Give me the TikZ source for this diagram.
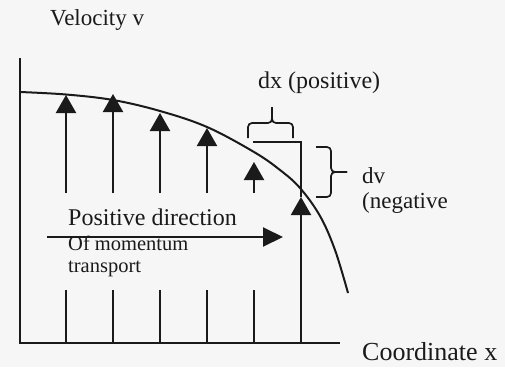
\documentclass[tikz,border=0pt]{standalone}
\usepackage{fontspec}
\setmainfont{Liberation Serif}
\usetikzlibrary{arrows.meta}
\definecolor{ink}{HTML}{1A1A1A}
\definecolor{paper}{HTML}{F6F6F6}
\begin{document}
\begin{tikzpicture}[x=1pt,y=-1pt,
  ln/.style={line width=2pt, draw=ink},
  arr/.style={ln, -{Triangle[width=20pt,length=18pt]}},
  lbl/.style={inner sep=0pt, anchor=base west, text=ink},
  brc/.style={line width=1.7pt, draw=ink, rounded corners=4pt},
  ]
\fill[paper] (0,0) rectangle (505,367);
\useasboundingbox (0,0) rectangle (505,367);
% axes
\coordinate (O) at (20,343);
\coordinate (Ytop) at (20,58);
\coordinate (Xend) at (340,343);
\draw[ln] (Ytop) -- (O) -- (Xend);
% velocity profile
\draw[ln] plot[smooth, tension=0.6] coordinates {(20,92) (66,94.5) (113,100) (160,111) (207,127) (254,152) (280,170) (300,188) (320,216) (335,250) (348,293)};
% vertical arrows (broken by the label)
\foreach \x/\t in {66/95, 113/94, 160/113, 207/128, 254/162} {
  \draw[ln] (\x,343) -- (\x,290);
  \draw[arr] (\x,193) -- (\x,\t);
}
\coordinate (A6b) at (301,343);
\coordinate (A6t) at (301,197);
\draw[arr] (A6b) -- (A6t);
% horizontal arrow
\coordinate (H1) at (47,237);
\coordinate (H2) at (283,237);
\draw[ln, -{Triangle[width=19pt,length=20pt]}] (H1) -- (H2);
% dx / dv step
\coordinate (S1) at (253,142);
\coordinate (S2) at (301,142);
\draw[line width=1.7pt, draw=ink] (S1) -- (S2) -- (A6t);
% dx brace
\draw[brc] (248,138) -- (248,123) -- (272,123) -- (272,107);
\draw[brc] (272,107) -- (272,123) -- (293,123) -- (293,138);
% dv brace
\draw[brc] (316,147) -- (331,147) -- (331,172) -- (347,172);
\draw[brc] (347,172) -- (331,172) -- (331,197) -- (316,197);
% labels
\node[lbl, font=\fontsize{23}{23}\selectfont] (vel) at (50,25) {Velocity v};
\node[lbl, font=\fontsize{24}{24}\selectfont] (dx) at (258,88) {dx (positive)};
\node[lbl, font=\fontsize{23}{23}\selectfont] (dv) at (362,183) {dv};
\node[lbl, font=\fontsize{23}{23}\selectfont] (neg) at (362,208) {(negative};
\node[lbl, font=\fontsize{24}{24}\selectfont] (pos) at (68,225) {Positive direction};
\node[lbl, font=\fontsize{20.5}{20.5}\selectfont] (mom) at (68,250) {Of momentum};
\node[lbl, font=\fontsize{20.5}{20.5}\selectfont] (tr) at (68,272) {transport};
\node[lbl, font=\fontsize{26}{26}\selectfont] (cx) at (362,360) {Coordinate x};
\end{tikzpicture}
\end{document}
